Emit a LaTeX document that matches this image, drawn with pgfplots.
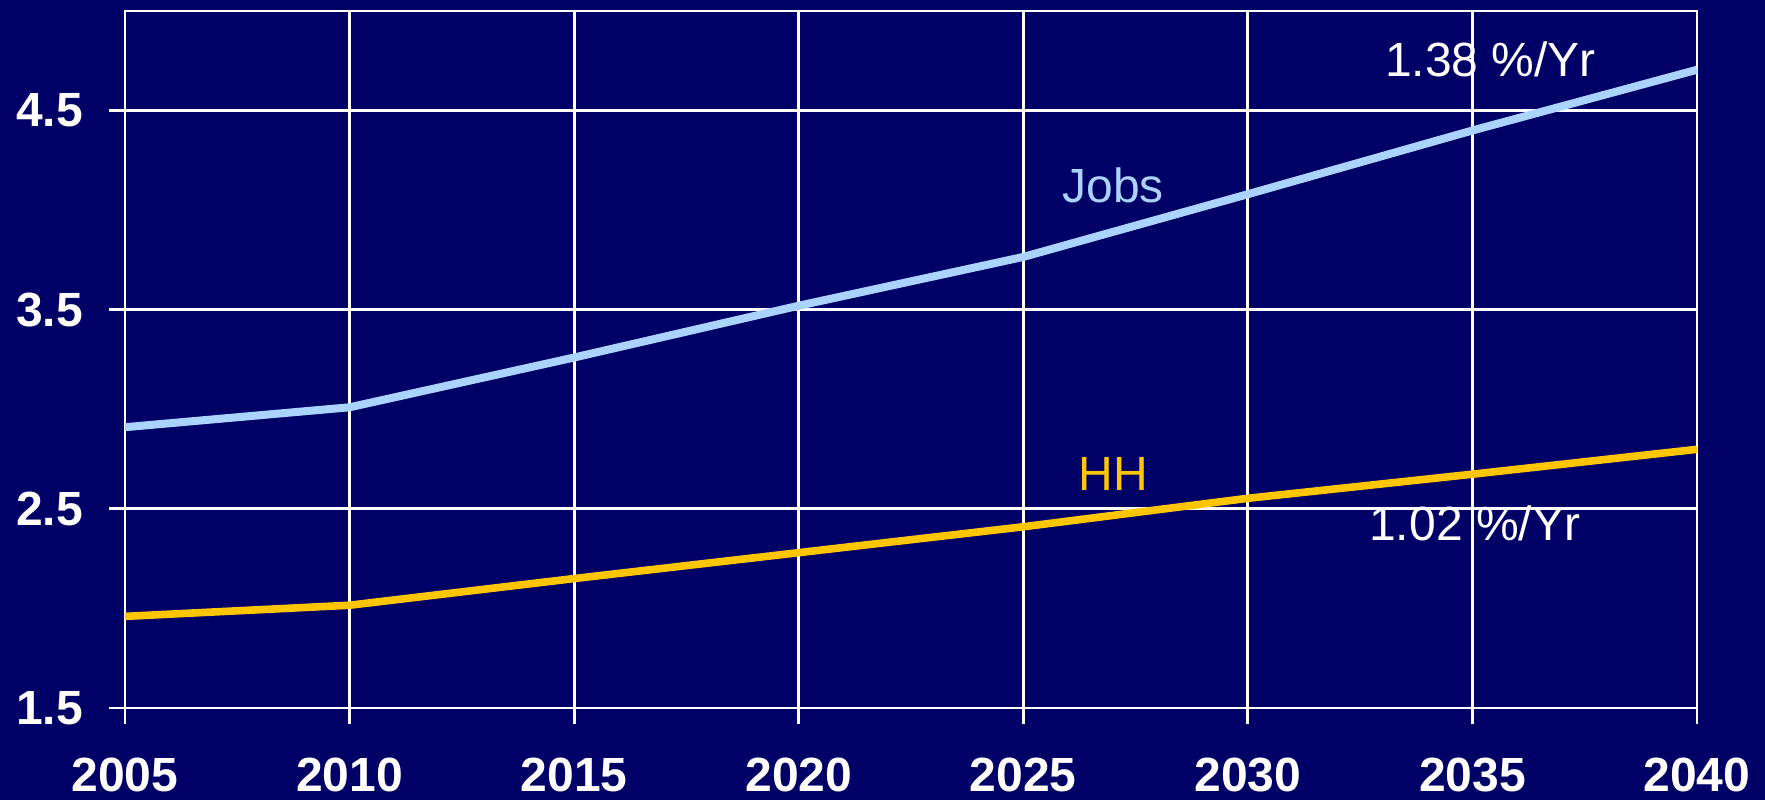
\documentclass[border=0pt]{standalone}
\usepackage{pgfplots}
\pgfplotsset{compat=1.18}
\usepackage{fontspec}
\setmainfont{Liberation Sans}
\definecolor{navybg}{RGB}{0,0,102}
\definecolor{jobsblue}{RGB}{170,212,255}
\definecolor{hhgold}{RGB}{255,198,0}
\begin{document}
\begin{tikzpicture}
\fill[navybg] (-31.25pt,-23pt) rectangle (410pt,177pt);
\begin{axis}[
  at={(0,0)}, anchor=south west,
  width=393pt, height=174.25pt, scale only axis,
  xmin=2005, xmax=2040, ymin=1.5, ymax=5.0,
  xtick={2005,2010,...,2040},
  ytick={1.5,2.5,3.5,4.5},
  grid=major,
  major grid style={white, line width=0.7pt},
  axis line style={white, line width=0.7pt},
  tick style={white, line width=0.7pt},
  tick align=outside, major tick length=4pt,
  xtick pos=bottom, ytick pos=left,
  /pgf/number format/assume math mode=true,
  xticklabel style={/pgf/number format/1000 sep={}, font=\fontsize{12}{14}\selectfont\bfseries, text=white, yshift=-5pt},
  yticklabel style={/pgf/number format/fixed, /pgf/number format/precision=1, /pgf/number format/fixed zerofill, font=\fontsize{12}{14}\selectfont\bfseries, text=white, xshift=-3pt},
]
\addplot[jobsblue, line width=2pt] coordinates {
  (2005,2.91) (2010,3.01) (2015,3.26) (2020,3.52) (2025,3.765) (2030,4.08) (2035,4.40) (2040,4.705)
};
\addplot[hhgold, line width=1.9pt] coordinates {
  (2005,1.96) (2010,2.016) (2015,2.15) (2020,2.28) (2025,2.41) (2030,2.553) (2035,2.674) (2040,2.799)
};
\node[text=white, font=\fontsize{12}{14}\selectfont] at (axis cs:2035.4,4.756) {1.38 \%/Yr};
\node[text=white, font=\fontsize{12}{14}\selectfont] at (axis cs:2035.05,2.428) {1.02 \%/Yr};
\node[text=jobsblue, font=\fontsize{12}{14}\selectfont] at (axis cs:2027.0,4.124) {Jobs};
\node[text=hhgold, font=\fontsize{12}{14}\selectfont] at (axis cs:2027.0,2.673) {HH};
\end{axis}
\pgfresetboundingbox
\path[use as bounding box] (-31.25pt,-23pt) rectangle (410pt,177pt);
\end{tikzpicture}
\end{document}
